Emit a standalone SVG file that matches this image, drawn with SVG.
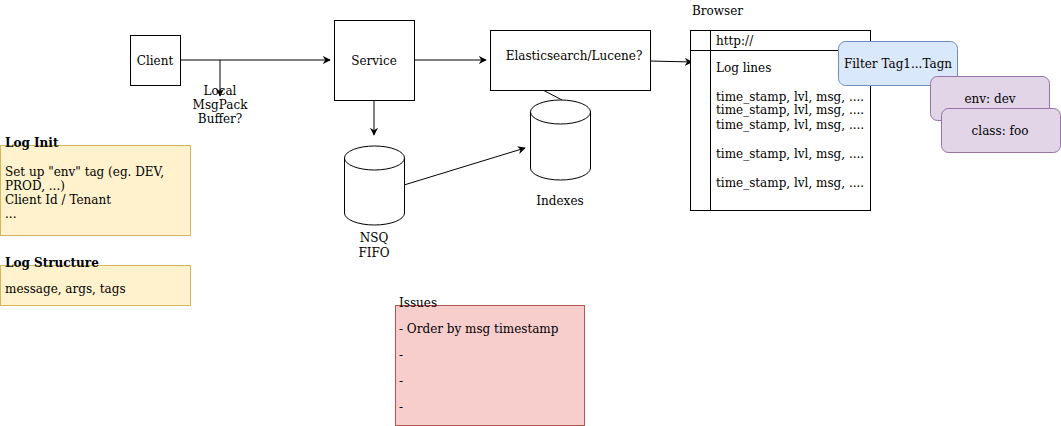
<svg xmlns="http://www.w3.org/2000/svg" width="1061" height="426" viewBox="0 0 1061 426">
<defs>
<style>
text{font-family:"DejaVu Serif","Liberation Serif",serif;font-size:12px;fill:#000}
.c{text-anchor:middle}
.b{font-weight:bold}
.box{fill:#fff;stroke:#000;stroke-width:1}
.ln{fill:none;stroke:#000;stroke-width:1}
.y{fill:#fff2cc;stroke:#d6b656}
.r{fill:#f8cecc;stroke:#b85450}
.bl{fill:#dae8fc;stroke:#6c8ebf}
.p{fill:#e1d5e7;stroke:#9673a6}
</style>
<marker id="a" viewBox="0 0 10 10" refX="9" refY="5" markerWidth="8" markerHeight="8" orient="auto" markerUnits="userSpaceOnUse">
<path d="M0,0 L10,5 L0,10 L3,5 Z" fill="#000"/>
</marker>
</defs>
<rect width="1061" height="426" fill="#fff"/>

<g id="connectors">
<path class="ln" d="M180,60 L330,60" marker-end="url(#a)"/>
<path class="ln" d="M220,60 L220,96" marker-end="url(#a)"/>
<path class="ln" d="M374,100 L374,135" marker-end="url(#a)"/>
<path class="ln" d="M404,185 L525,148" marker-end="url(#a)"/>
<path class="ln" d="M414,60 L486,60" marker-end="url(#a)"/>
<path class="ln" d="M650,61 L692,62" marker-end="url(#a)"/>
<path class="ln" d="M543,90 L562,100"/>
</g>

<g id="client">
<rect class="box" x="130.5" y="35.5" width="50" height="50"/>
<text class="c" x="155" y="65">Client</text>
</g>
<g id="buffer-label">
<text class="c" x="220" y="95">Local</text>
<text class="c" x="220" y="109">MsgPack</text>
<text class="c" x="220" y="123">Buffer?</text>
</g>

<g id="service">
<rect class="box" x="334.5" y="20.5" width="80" height="80"/>
<text class="c" x="374" y="65">Service</text>
</g>

<g id="nsq">
<path class="box" d="M344.5,158 A30,12 0 0 1 404.5,158 L404.5,213 A30,12 0 0 1 344.5,213 Z"/>
<path class="ln" d="M344.5,158 A30,12 0 0 0 404.5,158"/>
<text class="c" x="374" y="242">NSQ</text>
<text class="c" x="374" y="257">FIFO</text>
</g>

<g id="elasticsearch">
<rect class="box" x="490.5" y="30.5" width="160" height="60"/>
<text class="c" x="574" y="60">Elasticsearch/Lucene?</text>
</g>

<g id="indexes">
<path class="box" d="M530.5,112 A30,12 0 0 1 590.5,112 L590.5,168 A30,12 0 0 1 530.5,168 Z"/>
<path class="ln" d="M530.5,112 A30,12 0 0 0 590.5,112"/>
<text class="c" x="560" y="205">Indexes</text>
</g>

<g id="browser">
<text x="692" y="15">Browser</text>
<rect class="box" x="690.5" y="30.5" width="180" height="180"/>
<path class="ln" d="M710.5,30.5 L710.5,210.5 M690.5,50.5 L870.5,50.5"/>
<text x="716" y="45">http://</text>
<text x="716" y="72">Log lines</text>
<text x="716" y="101">time_stamp, lvl, msg, ....</text>
<text x="716" y="114">time_stamp, lvl, msg, ....</text>
<text x="716" y="129">time_stamp, lvl, msg, ....</text>
<text x="716" y="158">time_stamp, lvl, msg, ....</text>
<text x="716" y="187">time_stamp, lvl, msg, ....</text>
</g>

<g id="filter">
<rect class="bl" x="838.5" y="41.5" width="119" height="44" rx="7"/>
<text class="c" x="898" y="68">Filter Tag1...Tagn</text>
</g>
<g id="env">
<rect class="p" x="930.5" y="76.5" width="119" height="44" rx="7"/>
<text class="c" x="990" y="103">env: dev</text>
</g>
<g id="class">
<rect class="p" x="941.5" y="108.5" width="119" height="44" rx="7"/>
<text class="c" x="1000" y="135">class: foo</text>
</g>

<g id="log-init">
<rect class="y" x="0.5" y="145.5" width="190" height="90"/>
<text class="b" x="5" y="147">Log Init</text>
<text x="5" y="176">Set up "env" tag (eg. DEV,</text>
<text x="5" y="190">PROD, ...)</text>
<text x="5" y="204">Client Id / Tenant</text>
<text x="5" y="218">...</text>
</g>

<g id="log-structure">
<rect class="y" x="0.5" y="265.5" width="190" height="40"/>
<text class="b" x="5" y="267">Log Structure</text>
<text x="5" y="293">message, args, tags</text>
</g>

<g id="issues">
<rect class="r" x="395.5" y="305.5" width="189" height="120"/>
<text x="399" y="307">Issues</text>
<text x="399" y="333">- Order by msg timestamp</text>
<text x="399" y="359">-</text>
<text x="399" y="385">-</text>
<text x="399" y="411">-</text>
</g>
</svg>
